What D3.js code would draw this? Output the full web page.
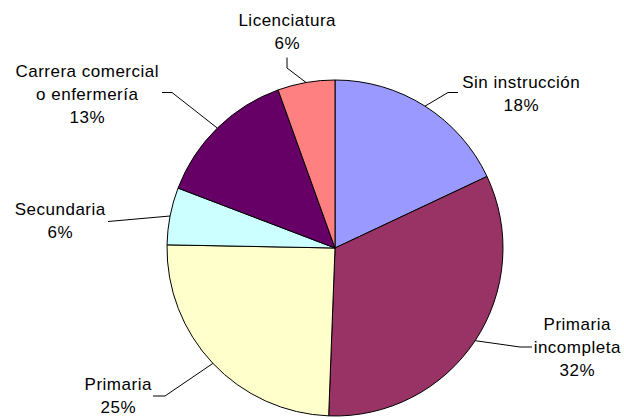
<!DOCTYPE html>
<meta charset="utf-8">
<script src="https://d3js.org/d3.v7.min.js"></script>
<style>
  body { margin: 0; background: #fff; }
  text { font-family: "Liberation Sans", Arial, sans-serif; font-size: 17px; letter-spacing: 0.5px; fill: #000; }
</style>
<div id="my_dataviz"></div>
<script>
  // slice data, clockwise from 12 o'clock
  var categories = ["Sin instrucción", "Primaria incompleta", "Primaria", "Secundaria", "Carrera comercial o enfermería", "Licenciatura"];
  var values = [18.0, 32.6, 24.7, 5.5, 13.7, 5.5];
  var pctLabels = ["18%", "32%", "25%", "6%", "13%", "6%"];
  var labelLines = [
    ["Sin instrucción"],
    ["Primaria", "incompleta"],
    ["Primaria"],
    ["Secundaria"],
    ["Carrera comercial", "o enfermería"],
    ["Licenciatura"]
  ];
  var colors = ["#9999FF", "#993366", "#FFFFCC", "#CCFFFF", "#660066", "#FF8080"];

  // label layout: text centre x, first baseline y, leader end + elbow
  var layout = [
    { x: 521, y: 88, end: [458, 92.5], elbow: [448, 92.5] },
    { x: 577, y: 330, end: [532, 347], elbow: [520, 347] },
    { x: 118, y: 390, end: [153, 396], elbow: [165, 396] },
    { x: 60, y: 215, end: [108, 221.5], elbow: [108, 221.5] },
    { x: 87, y: 77, end: [162, 92.5], elbow: [172, 92.5] },
    { x: 287, y: 26, end: [287, 57.5], elbow: [287, 68] }
  ];

  var width = 624, height = 419;
  var cx = 335, cy = 248, radius = 168;
  var lineH = 23;

  var svg = d3.select("#my_dataviz")
    .append("svg")
    .attr("width", width)
    .attr("height", height);

  var g = svg.append("g")
    .attr("transform", "translate(" + cx + "," + cy + ")");

  var pie = d3.pie().sort(null).value(function (d) { return d; });
  var arcs = pie(values);
  var arc = d3.arc().innerRadius(0).outerRadius(radius);

  g.selectAll("path")
    .data(arcs)
    .enter()
    .append("path")
    .attr("d", arc)
    .style("fill", function (d, i) { return colors[i]; })
    .style("stroke", "#000")
    .style("stroke-width", 1);

  // leader lines: label -> elbow -> pie edge at mid angle
  svg.selectAll("polyline")
    .data(arcs)
    .enter()
    .append("polyline")
    .attr("points", function (d, i) {
      var a = (d.startAngle + d.endAngle) / 2;
      var ex = cx + radius * Math.sin(a), ey = cy - radius * Math.cos(a);
      var L = layout[i];
      return [L.end, L.elbow, [ex, ey]].map(function (p) { return p.join(","); }).join(" ");
    })
    .style("fill", "none")
    .style("stroke", "#000")
    .style("stroke-width", 1);

  var labels = svg.selectAll("text.lbl")
    .data(categories)
    .enter()
    .append("text")
    .attr("class", "lbl")
    .attr("text-anchor", "middle");

  labels.each(function (d, i) {
    var t = d3.select(this);
    var lines = labelLines[i].concat([pctLabels[i]]);
    lines.forEach(function (s, k) {
      t.append("tspan")
        .attr("x", layout[i].x + 0.25)
        .attr("y", layout[i].y + k * lineH)
        .text(s);
    });
  });
</script>
